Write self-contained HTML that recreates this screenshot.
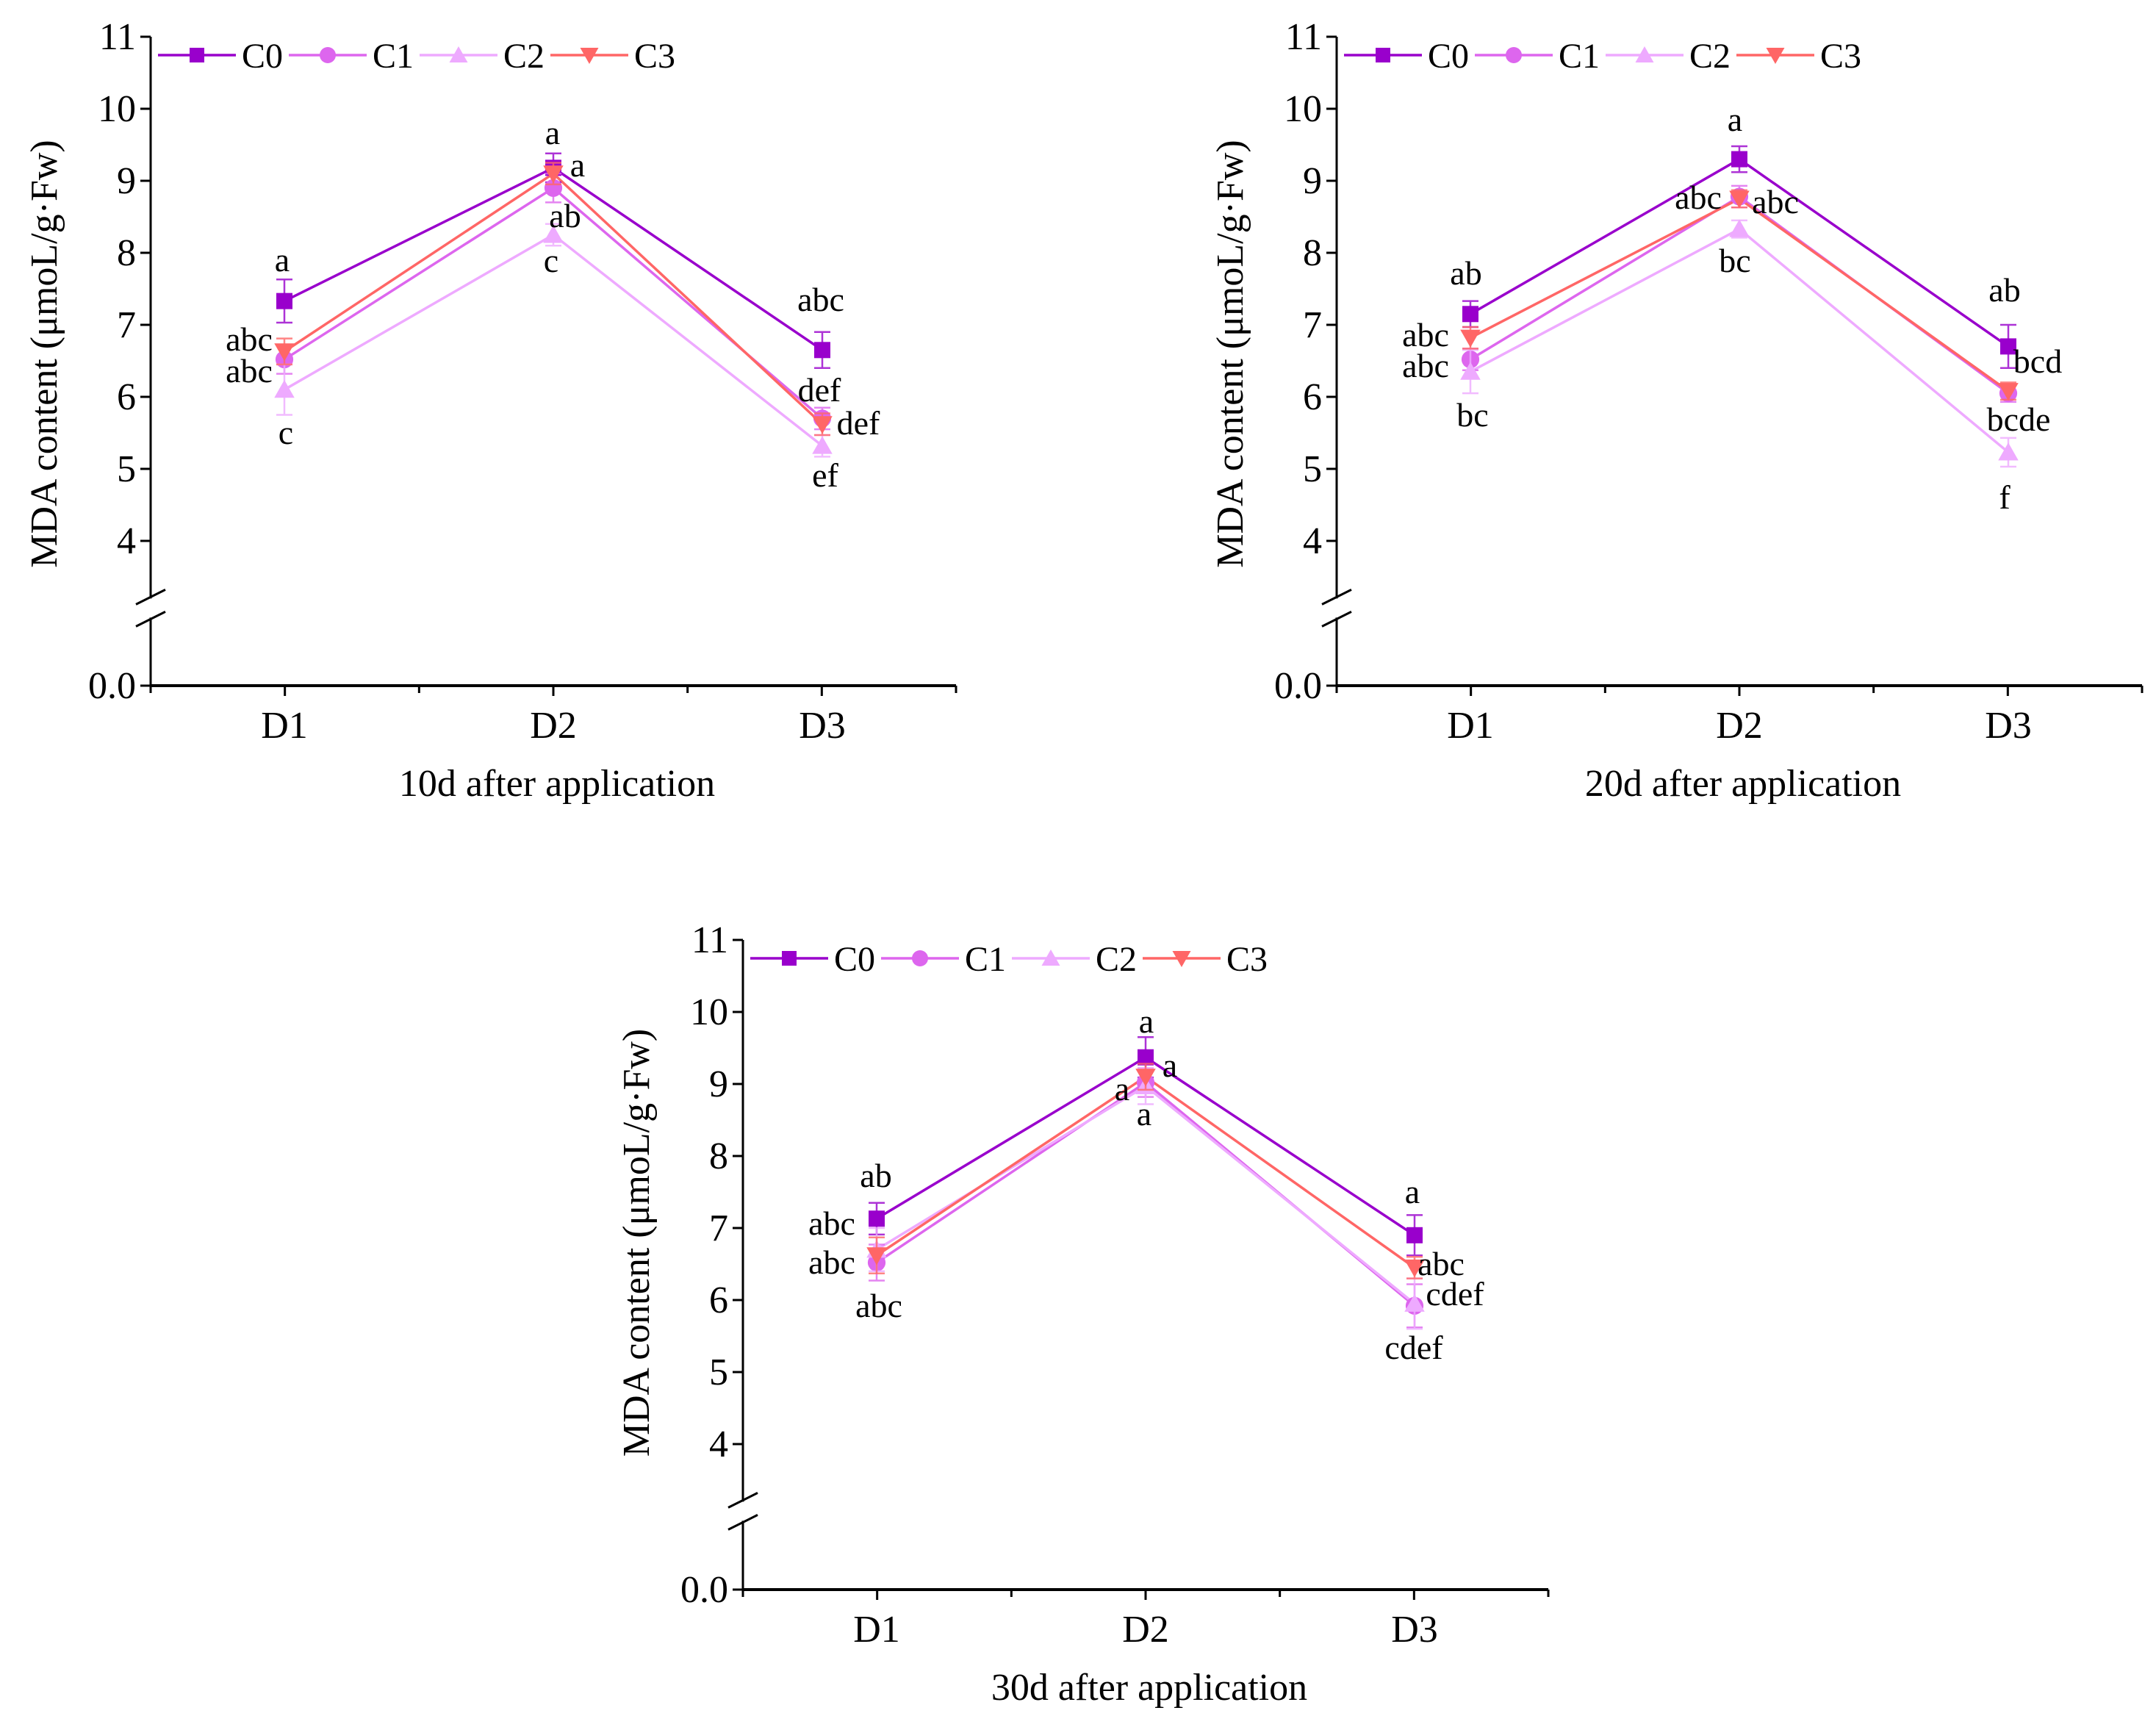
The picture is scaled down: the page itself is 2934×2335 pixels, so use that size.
<!DOCTYPE html>
<html><head><meta charset="utf-8"><style>
html,body{margin:0;padding:0;background:#fff;}
svg{display:block;}
svg text{font-family:"Liberation Serif","Times New Roman",Times,"DejaVu Serif",serif !important;}
</style></head>
<body>
<svg id="chart" width="2934" height="2335" viewBox="0 0 2934 2335" xmlns="http://www.w3.org/2000/svg" style="font-family:'Liberation Serif',serif">
</svg>
<script>
const categories = ["D1","D2","D3"];
const seriesNames = ["C0","C1","C2","C3"];
const yTicks = [4,5,6,7,8,9,10,11];
const panelTitles = ["10d after application","20d after application","30d after application"];
// panel 1 (10d)
const p1C0 = [7.33, 9.18, 6.65];
const p1C1 = [6.52, 8.90, 5.70];
const p1C2 = [6.10, 8.25, 5.32];
const p1C3 = [6.63, 9.10, 5.62];
const p1Err = [[0.30,0.20,0.25],[0.20,0.20,0.15],[0.35,0.15,0.15],[0.18,0.15,0.15]];
// panel 2 (20d)
const p2C0 = [7.15, 9.30, 6.70];
const p2C1 = [6.52, 8.78, 6.05];
const p2C2 = [6.35, 8.33, 5.23];
const p2C3 = [6.82, 8.75, 6.08];
const p2Err = [[0.18,0.18,0.30],[0.15,0.15,0.12],[0.30,0.12,0.20],[0.15,0.12,0.12]];
// panel 3 (30d)
const p3C0 = [7.13, 9.37, 6.90];
const p3C1 = [6.52, 9.02, 5.92];
const p3C2 = [6.70, 8.97, 5.95];
const p3C3 = [6.62, 9.10, 6.45];
const p3Err = [[0.22,0.28,0.28],[0.25,0.20,0.30],[0.30,0.25,0.35],[0.25,0.18,0.15]];
// significance letters [text, centerX, centerY] (page positions)
const p1Letters = [["a",384,354],["abc",339,462],["abc",339,505],["c",389,589],
  ["a",752,181],["a",786,225],["ab",769,294],["c",750,355],
  ["abc",1117,408],["def",1115,531],["def",1168,576],["ef",1123,647]];
const p2Letters = [["ab",1995,372],["abc",1940,456],["abc",1940,498],["bc",2004,565],
  ["a",2361,163],["abc",2311,269],["abc",2416,275],["bc",2361,355],
  ["ab",2728,395],["bcd",2773,492],["bcde",2747,571],["f",2728,677]];
const p3Letters = [["ab",1192,1600],["abc",1132,1665],["abc",1132,1718],["abc",1196,1777],
  ["a",1560,1390],["a",1592,1450],["a",1527,1482],["a",1557,1516],
  ["a",1922,1622],["abc",1961,1720],["cdef",1980,1761],["cdef",1924,1834]];

const colors = ["#9900cc","#dd66ee","#eeaaff","#ff6666"];
const NS = "http://www.w3.org/2000/svg";
const svg = document.getElementById("chart");
function mk(tag, attrs, parent, txt){
  const e = document.createElementNS(NS, tag);
  for (const k in attrs) e.setAttribute(k, attrs[k]);
  if (tag === "text") { e.setAttribute("font-family", "Liberation Serif, Times New Roman, serif"); e.setAttribute("fill", "#000"); }
  if (txt !== undefined) e.textContent = txt;
  (parent||svg).appendChild(e);
  return e;
}
function marker(g, si, x, y, s){
  let m;
  if (si===0) m = mk("rect",{x:x-s,y:y-s,width:2*s,height:2*s,fill:colors[0]},g);
  else if (si===1) m = mk("circle",{cx:x,cy:y,r:s*1.1,fill:colors[1]},g);
  else if (si===2) m = mk("polygon",{points:`${x},${y-s*1.2} ${x-s*1.25},${y+s} ${x+s*1.25},${y+s}`,fill:colors[2]},g);
  else m = mk("polygon",{points:`${x-s*1.25},${y-s} ${x+s*1.25},${y-s} ${x},${y+s*1.2}`,fill:colors[3]},g);
  return m;
}
function panel(pi, ax, top, zeroY, series, errs, letters, titleShift){
  const unit = 98;
  const xEnd = ax + 1096;
  const yScale = v => top + (11 - v) * unit;
  const xScale = i => ax + 182 + i * 366;
  const g = mk("g",{});
  
  
  const breakTop = yScale(3.2), breakBot = breakTop + 26;
  const ya = mk("path",{d:`M${ax},${top} V${breakTop} M${ax},${breakBot} V${zeroY}`,stroke:"#000","stroke-width":3,fill:"none"},g);
  
  
  const br = mk("path",{d:`M${ax-20},${breakTop+8} L${ax+20},${breakTop-12} M${ax-20},${breakBot+12} L${ax+20},${breakBot-8}`,stroke:"#000","stroke-width":3},g);
  
  
  yTicks.forEach(v=>{
    const y = yScale(v);
    mk("line",{x1:ax-14,x2:ax,y1:y,y2:y,stroke:"#000","stroke-width":3},g);
    const t = mk("text",{x:ax-20,y:y+17,"font-size":52,"text-anchor":"end"},g,String(v));
    
    
  });
  mk("line",{x1:ax-14,x2:ax,y1:zeroY,y2:zeroY,stroke:"#000","stroke-width":3},g);
  const z = mk("text",{x:ax-20,y:zeroY+17,"font-size":52,"text-anchor":"end"},g,"0.0");
  
  
  const xa = mk("line",{x1:ax,x2:xEnd,y1:zeroY,y2:zeroY,stroke:"#000","stroke-width":4},g);
  
  
  for (let k=0;k<=6;k++){
    const x = ax + k*(xEnd-ax)/6;
    mk("line",{x1:x,x2:x,y1:zeroY,y2:zeroY+(k%2?14:10),stroke:"#000","stroke-width":3},g);
  }
  categories.forEach((c,i)=>{
    const t = mk("text",{x:xScale(i),y:zeroY+71,"font-size":52,"text-anchor":"middle"},g,c);
    
    
  });
  const tt = mk("text",{x:ax+553,y:zeroY+150,"font-size":52,"text-anchor":"middle"},g,panelTitles[pi]);
  
  
  const ymid = (top + zeroY)/2 - 10 + titleShift;
  const yt = mk("text",{x:ax-128,y:ymid,"font-size":52,"text-anchor":"middle",transform:`rotate(-90 ${ax-128} ${ymid})`},g,"MDA content (μmoL/g·Fw)");
  
  
  series.forEach((vals,si)=>{
    const pts = vals.map((v,i)=>`${xScale(i)},${yScale(v)}`).join(" ");
    const l = mk("polyline",{points:pts,fill:"none",stroke:colors[si],"stroke-width":3.5},g);
    
    
  });
  series.forEach((vals,si)=>{
    vals.forEach((v,i)=>{
      const x = xScale(i), e = errs[si][i];
      const eb = mk("path",{d:`M${x},${yScale(v+e)} V${yScale(v-e)} M${x-11},${yScale(v+e)} H${x+11} M${x-11},${yScale(v-e)} H${x+11}`,stroke:colors[si],"stroke-width":2.5,fill:"none",opacity:0.8},g);
      
      
      const m = marker(g, si, x, yScale(v), 11);
      
      
    });
  });
  letters.forEach(L=>{
    const t = mk("text",{x:L[1],y:L[2]+15,"font-size":46,"text-anchor":"middle"},g,L[0]);
    
    
  });
  const ly = top + 25;
  seriesNames.forEach((n,si)=>{
    const lx = ax + 10 + si*178;
    const lg = mk("g",{},g);
    
    
    mk("line",{x1:lx,x2:lx+106,y1:ly,y2:ly,stroke:colors[si],"stroke-width":3.5},lg);
    marker(lg, si, lx+53, ly, 10);
    mk("text",{x:lx+114,y:ly+17,"font-size":48},lg,n);
  });
}
panel(0, 205, 50, 933, [p1C0,p1C1,p1C2,p1C3], p1Err, p1Letters, 0);
panel(1, 1819, 50, 933, [p2C0,p2C1,p2C2,p2C3], p2Err, p2Letters, 0);
panel(2, 1011, 1279, 2163, [p3C0,p3C1,p3C2,p3C3], p3Err, p3Letters, -20);
</script>
</body></html>
